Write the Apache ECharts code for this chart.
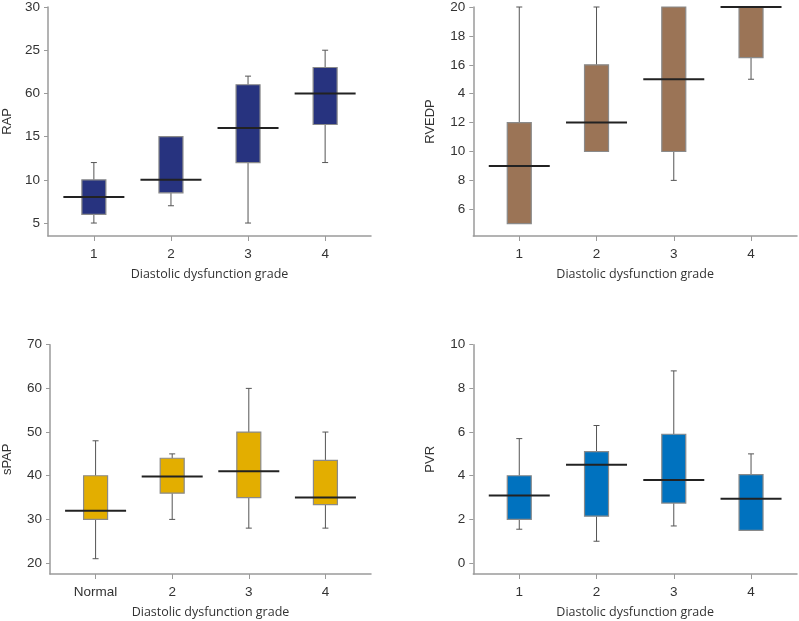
<!DOCTYPE html>
<html>
<head>
<meta charset="utf-8">
<script src="https://cdn.jsdelivr.net/npm/echarts@6/dist/echarts.min.js"></script>
<style>
html,body{margin:0;padding:0;background:#fff;}
#main{width:799px;height:621px;}
</style>
</head>
<body>
<div id="main"></div>
<script>
// ---- data ----
const gradePositions = [1, 2, 3, 4];
const gradeLabels = ['1', '2', '3', '4'];
const spapGradeLabels = ['Normal', '2', '3', '4'];

// [min, Q1, median, Q3, max]
const rapValues = [
  [5, 6, 8, 10, 12],
  [7, 8.5, 10, 15, 15],
  [5, 12, 16, 21, 22],
  [12, 16.4, 20, 23, 25]
];
const rvedpValues = [
  [5, 5, 9, 12, 20],
  [10, 10, 12, 16, 20],
  [8, 10, 15, 20, 20],
  [15, 16.5, 20, 20, 20]
];
const spapValues = [
  [21, 30, 32, 40, 48],
  [30, 36, 39.8, 44, 45],
  [28, 35, 41, 50, 60],
  [28, 33.4, 35, 43.5, 50]
];
const pvrValues = [
  [1.55, 2, 3.1, 4, 5.7],
  [1, 2.15, 4.5, 5.1, 6.3],
  [1.7, 2.75, 3.8, 5.9, 8.8],
  [1.5, 1.5, 2.95, 4.05, 5]
];

const rapTicks = [5, 10, 15, 20, 25, 30];
const rapTickLabels = ['5', '10', '15', '60', '25', '30'];
const rvedpTicks = [6, 8, 10, 12, 14, 16, 18, 20];
const rvedpTickLabels = ['6', '8', '10', '12', '4', '16', '18', '20'];
const spapTicks = [20, 30, 40, 50, 60, 70];
const spapTickLabels = ['20', '30', '40', '50', '60', '70'];
const pvrTicks = [0, 2, 4, 6, 8, 10];
const pvrTickLabels = ['0', '2', '4', '6', '8', '10'];

const xName = 'Diastolic dysfunction grade';

// ---- chart ----
const chart = echarts.init(document.getElementById('main'), null, {renderer: 'canvas'});

const panels = [
  {grid: {left: 47, top: 6.7, width: 324, height: 229.3}, yName: 'RAP', yMin: 3.5, yMax: 30,
   ticks: rapTicks, tickLabels: rapTickLabels, xLabels: gradeLabels, values: rapValues, color: '#27337f', nameGap: 34},
  {grid: {left: 473.3, top: 6.7, width: 323.7, height: 229.3}, yName: 'RVEDP', yMin: 4.15, yMax: 20,
   ticks: rvedpTicks, tickLabels: rvedpTickLabels, xLabels: gradeLabels, values: rvedpValues, color: '#9b7456', nameGap: 36},
  {grid: {left: 47, top: 344.7, width: 324, height: 229.3}, yName: 'sPAP', yMin: 17.5, yMax: 70,
   ticks: spapTicks, tickLabels: spapTickLabels, xLabels: spapGradeLabels, values: spapValues, color: '#e3ae00', nameGap: 36},
  {grid: {left: 473.3, top: 344.7, width: 323.7, height: 229.3}, yName: 'PVR', yMin: -0.5, yMax: 10,
   ticks: pvrTicks, tickLabels: pvrTickLabels, xLabels: gradeLabels, values: pvrValues, color: '#0072bf', nameGap: 36}
];

const axisColor = '#9a9a9a';
const textColor = '#333';
const tickFont = 'Liberation Sans, Arial, sans-serif';
const nameFont = '"Open Sans", "Noto Sans", sans-serif';

function makeRender(color) {
  return function (params, api) {
    const x = api.value(0);
    const mn = api.value(1), q1 = api.value(2), md = api.value(3), q3 = api.value(4), mx = api.value(5);
    const c = v => api.coord([x, v]);
    const cx = c(md)[0];
    const yMin = c(mn)[1], yQ1 = c(q1)[1], yMd = c(md)[1], yQ3 = c(q3)[1], yMax = c(mx)[1];
    const boxHalf = 12, medHalf = 30.5, capHalf = 3;
    const wStyle = {stroke: '#555', lineWidth: 1, fill: null};
    const children = [];
    if (yMin - yQ1 > 0.5) {
      children.push({type: 'line', shape: {x1: cx, y1: yQ1, x2: cx, y2: yMin}, style: wStyle});
      children.push({type: 'line', shape: {x1: cx - capHalf, y1: yMin, x2: cx + capHalf, y2: yMin}, style: wStyle});
    }
    if (yQ3 - yMax > 0.5) {
      children.push({type: 'line', shape: {x1: cx, y1: yQ3, x2: cx, y2: yMax}, style: wStyle});
      children.push({type: 'line', shape: {x1: cx - capHalf, y1: yMax, x2: cx + capHalf, y2: yMax}, style: wStyle});
    }
    children.push({type: 'rect', shape: {x: cx - boxHalf, y: yQ3, width: boxHalf * 2, height: yQ1 - yQ3},
      style: {fill: color, stroke: '#8a8a8a', lineWidth: 1.2}});
    children.push({type: 'line', shape: {x1: cx - medHalf, y1: yMd, x2: cx + medHalf, y2: yMd},
      style: {stroke: '#222', lineWidth: 2}});
    return {type: 'group', children: children};
  };
}

const option = {
  animation: false,
  backgroundColor: '#fff',
  grid: [], xAxis: [], yAxis: [], series: []
};

panels.forEach((p, i) => {
  option.grid.push(Object.assign({containLabel: false}, p.grid));
  option.xAxis.push({
    type: 'value', gridIndex: i, min: 0.405, max: 4.595,
    name: xName, nameLocation: 'middle', nameGap: 32,
    nameTextStyle: {fontFamily: nameFont, fontSize: 12.5, color: textColor},
    axisLine: {onZero: false, lineStyle: {color: axisColor, width: 1.5}},
    axisTick: {show: true, customValues: gradePositions, length: 5, lineStyle: {color: axisColor}},
    axisLabel: {customValues: gradePositions, margin: 11, fontFamily: tickFont, fontSize: 13.5, color: textColor,
      formatter: v => p.xLabels[gradePositions.indexOf(Math.round(v))]},
    splitLine: {show: false}
  });
  option.yAxis.push({
    type: 'value', gridIndex: i, min: p.yMin, max: p.yMax,
    name: p.yName, nameLocation: 'middle', nameGap: p.nameGap, nameRotate: 90,
    nameTextStyle: {fontFamily: tickFont, fontSize: 13, color: textColor},
    axisLine: {show: true, onZero: false, lineStyle: {color: axisColor, width: 1.5}},
    axisTick: {show: true, customValues: p.ticks, length: 4, lineStyle: {color: axisColor}},
    axisLabel: {customValues: p.ticks, margin: 8, fontFamily: tickFont, fontSize: 13.5, color: textColor,
      formatter: v => {
        const k = p.ticks.findIndex(t => Math.abs(t - v) < 1e-6);
        return k >= 0 ? p.tickLabels[k] : '';
      }},
    splitLine: {show: false}
  });
  option.series.push({
    type: 'custom', xAxisIndex: i, yAxisIndex: i,
    renderItem: makeRender(p.color),
    encode: {x: 0, y: [1, 2, 3, 4, 5]},
    data: p.values.map((v, k) => [gradePositions[k]].concat(v)),
    clip: false
  });
});

chart.setOption(option);
</script>
</body>
</html>
